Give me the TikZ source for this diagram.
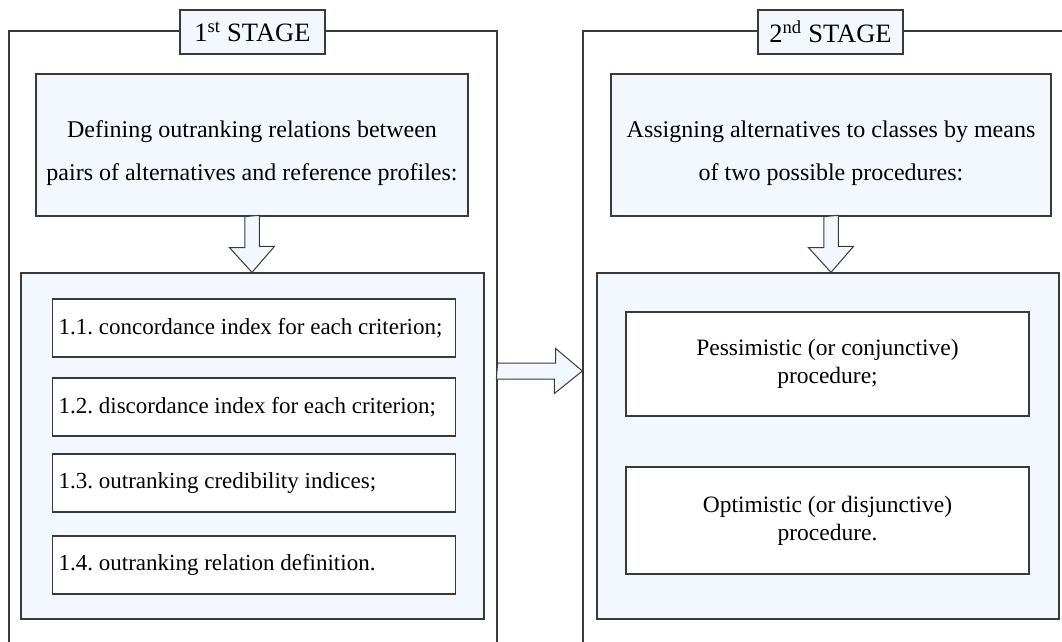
\documentclass[tikz,border=0pt]{standalone}
\usepackage{fontspec}
\setmainfont{Liberation Serif}
\usetikzlibrary{calc}
\definecolor{boxfill}{HTML}{F3F7FE}
\definecolor{linec}{HTML}{3A3A3A}
\frenchspacing
\begin{document}
\begin{tikzpicture}[x=1pt,y=-1pt,
  every node/.style={font=\fontsize{24}{28}\selectfont, inner sep=0pt},
  frame/.style={draw=linec, line width=1.3pt, rectangle},
  container/.style={draw=linec, line width=1.3pt, fill=boxfill, rectangle},
  headbox/.style={draw=linec, line width=1.3pt, fill=boxfill, rectangle, align=center, font=\fontsize{24}{43}\selectfont},
  titlebox/.style={draw=linec, line width=1.3pt, fill=boxfill, rectangle, minimum width=145pt, minimum height=44pt, font=\fontsize{26.5}{28}\selectfont},
  itembox/.style={draw=linec, line width=1.3pt, fill=white, rectangle, inner xsep=6.5pt, minimum width=403pt, minimum height=58pt, font=\fontsize{23}{28}\selectfont},
  procbox/.style={draw=linec, line width=1.3pt, fill=white, rectangle, minimum width=403pt, align=center, font=\fontsize{23.5}{28}\selectfont},
  barrow/.style={draw=linec, line width=1pt, fill=boxfill, line join=miter}
]
\clip (0,0) rectangle (1062,642);
\fill[white] (0,0) rectangle (1062,642);

% stage frames
\node[frame, minimum width=488pt, minimum height=680pt] (frame1) at (253,371) {};
\node[frame, minimum width=517pt, minimum height=680pt] (frame2) at (841.5,371) {};

% containers
\node[container, minimum width=463pt, minimum height=346pt] (cont1) at (252.5,446) {};
\node[container, minimum width=462pt, minimum height=346pt] (cont2) at (828,446) {};

% head boxes
\node[headbox, minimum width=432pt, minimum height=142pt] (top1) at (252,145)
  {\rule{0pt}{34pt}Defining outranking relations between\\pairs of alternatives and reference profiles:};
\node[headbox, minimum width=440pt, minimum height=142pt] (top2) at (831,145)
  {\rule{0pt}{34pt}Assigning alternatives to classes by means\\of two possible procedures:};

% titles
\node[titlebox] (title1) at (252.5,32) {1\textsuperscript{st} STAGE};
\node[titlebox] (title2) at (830.5,32) {2\textsuperscript{nd} STAGE};

% stage 1 items
\node[itembox, anchor=west] (i1) at (51.5,328) {\makebox[390pt][l]{1.1. concordance index for each criterion;}};
\node[itembox, anchor=west] (i2) at (51.5,407) {\makebox[390pt][l]{1.2. discordance index for each criterion;}};
\node[itembox, anchor=west] (i3) at (51.5,483) {\makebox[390pt][l]{1.3. outranking credibility indices;}};
\node[itembox, anchor=west] (i4) at (51.5,565) {\makebox[390pt][l]{1.4. outranking relation definition.}};

% stage 2 items
\node[procbox, minimum height=104pt] (p1) at (827.5,364) {Pessimistic (or conjunctive)\\procedure;};
\node[procbox, minimum height=107pt] (p2) at (827.5,520.5) {Optimistic (or disjunctive)\\procedure.};

% block arrows
\draw[barrow] ($(top1.south)+(-7.25,0)$) -- ++(0,31) -- ++(-15.25,0)
  -- (top1.south |- cont1.north) -- ++(22.5,-26) -- ++(-15.25,0) -- ++(0,-31) -- cycle;
\draw[barrow] ($(top2.south)+(-7.25,0)$) -- ++(0,31) -- ++(-15.25,0)
  -- (top2.south |- cont2.north) -- ++(22.5,-26) -- ++(-15.25,0) -- ++(0,-31) -- cycle;
\draw[barrow] ($(frame1.east)+(0,-8)$) -- ++(58,0) -- ++(0,-14.5)
  -- (frame2.west) -- ++(-28,22.5) -- ++(0,-14.5) -- ++(-58,0) -- cycle;
\end{tikzpicture}
\end{document}
